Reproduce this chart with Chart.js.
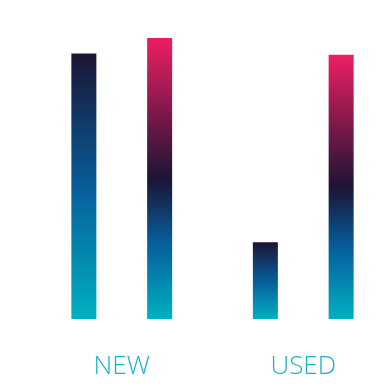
<!DOCTYPE html>
<html>
<head>
<meta charset="utf-8">
<script src="https://cdn.jsdelivr.net/npm/chart.js@4/dist/chart.umd.min.js"></script>
<style>
  html, body { margin: 0; padding: 0; background: #fff; overflow: hidden; }
  #wrap { width: 396px; height: 386px; }
</style>
</head>
<body>
<div id="wrap"><canvas id="myBarChart"></canvas></div>
<script>
// 카테고리와 값
const categories = ['NEW', 'USED'];
const seriesA = [94.5, 27.3];
const seriesB = [100, 94];

// 막대별 그라데이션 색
const stopsA = [[0, '#1b1434'], [0.5, '#075d99'], [1, '#00b0c2']];
const stopsB = [[0, '#ee1e63'], [0.5, '#1b1434'], [0.73, '#065e9b'], [1, '#00b0c2']];

function barGradient(stops) {
  return function (context) {
    const chart = context.chart;
    if (!chart.chartArea || context.type !== 'data') return stops[0][1];
    const y = chart.scales.y;
    const top = y.getPixelForValue(context.raw);
    const bottom = y.getPixelForValue(0);
    const g = chart.ctx.createLinearGradient(0, top, 0, bottom);
    stops.forEach(s => g.addColorStop(s[0], s[1]));
    return g;
  };
}

const barData = {
  labels: categories,
  datasets: [{
    data: seriesA,
    backgroundColor: barGradient(stopsA),
    borderWidth: 0
  }, {
    data: seriesB,
    backgroundColor: barGradient(stopsB),
    borderWidth: 0
  }]
};

const barOptions = {
  responsive: true,
  maintainAspectRatio: false,
  animation: false,
  layout: { padding: { top: 38, left: 31, right: 2, bottom: 7 } },
  categoryPercentage: 0.835,
  barPercentage: 0.33,
  plugins: { legend: { display: false }, tooltip: { enabled: false } },
  scales: {
    x: {
      grid: { display: false },
      border: { display: false },
      ticks: {
        padding: 24,
        color: '#1ab2c9',
        font: { family: 'Open Sans', size: 26, weight: 300 }
      },
      // 축 높이 고정 (레이블 아래 여백)
      afterFit: scale => { scale.height = 60; }
    },
    y: {
      display: false,
      min: 0,
      max: 100
    }
  }
};

const ctx = document.getElementById('myBarChart').getContext('2d');
const myBarChart = new Chart(ctx, {
  type: 'bar',
  data: barData,
  options: barOptions
});
</script>
</body>
</html>
